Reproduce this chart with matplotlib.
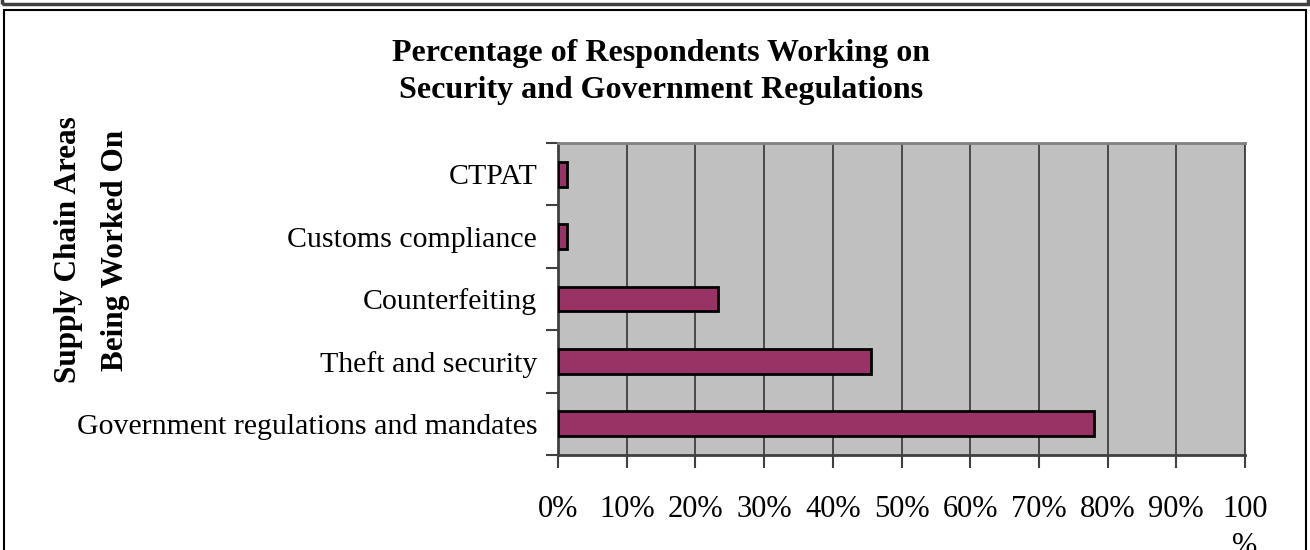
import matplotlib.pyplot as plt
from matplotlib.patches import Rectangle

# data
categories = ['Government regulations and mandates', 'Theft and security',
              'Counterfeiting', 'Customs compliance', 'CTPAT']
percents = [78.0, 45.5, 23.3, 1.3, 1.3]
tick_vals = [0, 10, 20, 30, 40, 50, 60, 70, 80, 90, 100]
tick_labels = ['0%', '10%', '20%', '30%', '40%', '50%', '60%', '70%', '80%', '90%', '100\n%']

plt.rcParams['font.family'] = ['Liberation Serif', 'DejaVu Serif']

W, H = 1310, 550
fig = plt.figure(figsize=(W / 100, H / 100), dpi=100)

# frames round the chart (top one is the end of a previous box)
fig.patches.append(Rectangle((2 / W, 1 - 4 / H), (W - 4) / W, 10 / H, transform=fig.transFigure,
                             fill=False, edgecolor='#404040', linewidth=2.5, clip_on=False))
fig.patches.append(Rectangle((4 / W, -0.01), (W - 8) / W, 1 - 10 / H + 0.01, transform=fig.transFigure,
                             fill=False, edgecolor='black', linewidth=1.5))

ax = fig.add_axes([558 / W, 1 - 455 / H, 687 / W, 312 / H])
ax.set_facecolor('#c0c0c0')

y = list(range(len(categories)))
ax.barh(y, percents, height=0.4, color='#993366', edgecolor='black', linewidth=2, zorder=3)

ax.set_xlim(0, 100)
ax.set_ylim(-0.5, len(categories) - 0.5)
ax.set_xticks(tick_vals)
ax.set_xticklabels(tick_labels, fontsize=22, linespacing=1.35, va='top')
ax.set_yticks(y)
ax.set_yticklabels(categories, fontsize=21.5)
ax.tick_params(axis='y', length=0, pad=15)
ax.set_yticks([i - 0.5 for i in range(len(categories) + 1)], minor=True)
ax.tick_params(axis='y', which='minor', length=9, width=1.5, color='#404040', direction='out')
ax.tick_params(axis='x', length=9, width=1.5, color='#404040', direction='out', pad=20)

ax.grid(axis='x', color='#404040', linewidth=1.3, zorder=1)
ax.set_axisbelow(True)
for s in ['left', 'bottom']:
    ax.spines[s].set_color('#404040')
    ax.spines[s].set_linewidth(2)
ax.spines['top'].set_color('#808080')
ax.spines['top'].set_linewidth(2)
ax.spines['right'].set_color('#404040')
ax.spines['right'].set_linewidth(1.3)

fig.text(661 / W, 1 - 72 / H, 'Percentage of Respondents Working on\nSecurity and Government Regulations',
         ha='center', va='center', fontsize=23, fontweight='bold', linespacing=1.4)
fig.text(92 / W, 1 - 250 / H, 'Supply Chain Areas\nBeing Worked On', rotation=90,
         ha='center', va='center', fontsize=22.5, fontweight='bold', linespacing=1.8)

fig.savefig('out.png', dpi=100)
